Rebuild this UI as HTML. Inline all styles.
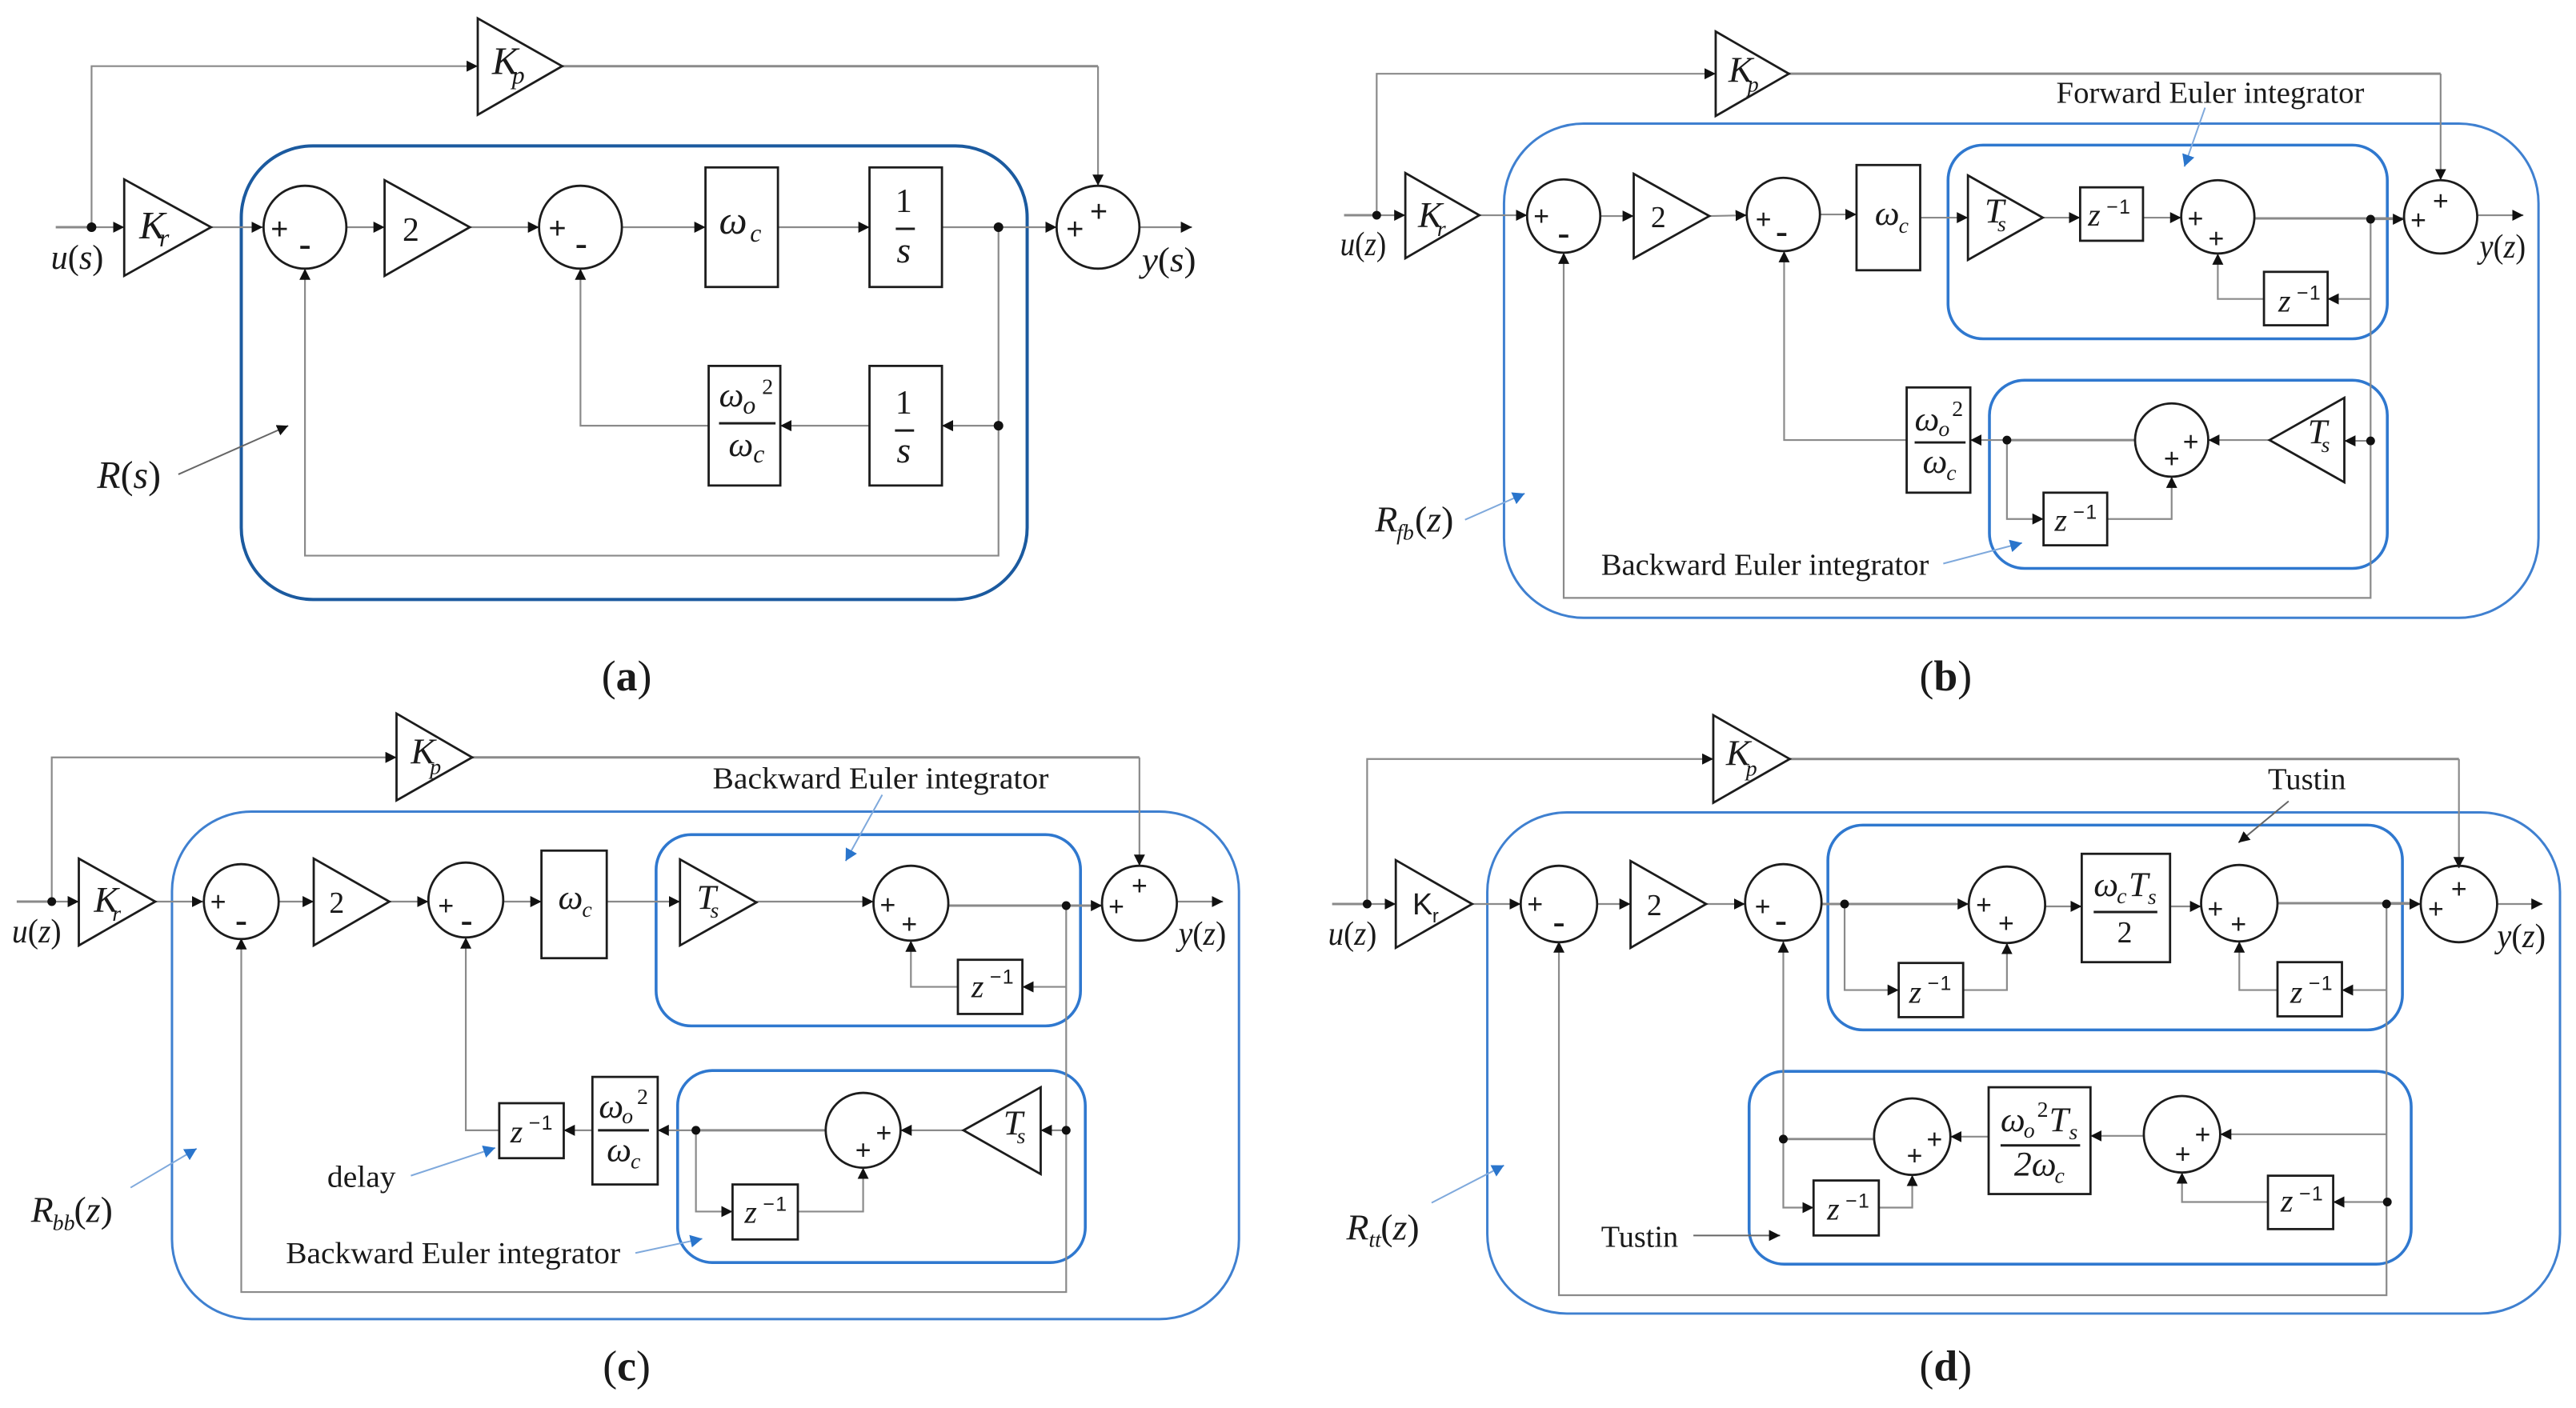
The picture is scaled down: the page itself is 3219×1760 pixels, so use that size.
<!DOCTYPE html>
<html>
<head>
<meta charset="utf-8">
<style>
html,body{margin:0;padding:0;background:#fff}
svg{display:block}
.c{fill:none;stroke:#8a8a8a;stroke-width:2.2;marker-end:url(#a)}
.t{fill:none;stroke:#8a8a8a;stroke-width:3}
.b{fill:none;stroke:#1c1c1c;stroke-width:2.8}
.f{stroke:#1c1c1c;stroke-width:3}
.d{fill:#111}
.ra{fill:none;stroke:#1b5a9f;stroke-width:4}
.rb{fill:none;stroke:#3f80d0;stroke-width:3}
.rc{fill:none;stroke:#2f78cf;stroke-width:3.6}
.ab{fill:none;stroke:#7fa9dc;stroke-width:2;marker-end:url(#ab)}
.ak{fill:none;stroke:#666;stroke-width:2;marker-end:url(#a)}
text{fill:#1a1a1a;font-family:"Liberation Serif",serif}
.u{font-style:normal}
.i{font-style:italic;font-size:42px}
.ib{font-style:italic;font-size:49px}
.w{font-style:italic;font-size:44px}
.W{font-style:italic;font-size:50px}
.s4{font-style:italic;font-size:46px}
.ss{font-style:italic;font-size:28px}
.sa{font-style:italic;font-size:32px}
.sm{font-size:28px}
.z{font-style:italic;font-size:40px;transform:translateY(-1px)}
.e{font-size:25px;letter-spacing:1.5px;font-family:"Liberation Sans",sans-serif;transform:translateX(2px)}
.p{font-size:34px;font-family:"Liberation Sans",sans-serif;text-anchor:middle;transform:translateY(1.5px)}
.q{font-size:48px;font-family:"Liberation Sans",sans-serif;text-anchor:middle;transform:translateY(3.3px)}
.A .p{font-size:38px;transform:translateY(3px)}
.g{font-size:38px;text-anchor:middle}
.A .g{font-size:42px}
.l{font-size:38px}
.cap{font-size:54px;text-anchor:middle}
.capb{font-weight:bold}
</style>
</head>
<body>
<svg xmlns="http://www.w3.org/2000/svg" width="3219" height="1760" viewBox="0 0 3219 1760">
<defs>
<marker id="a" markerUnits="userSpaceOnUse" markerWidth="15" markerHeight="15" refX="14" refY="7" orient="auto"><path d="M0 0L14 7L0 14Z" fill="#111"/></marker>
<marker id="ab" markerUnits="userSpaceOnUse" markerWidth="16" markerHeight="16" refX="15" refY="8" orient="auto"><path d="M0 0L15 8L0 16Z" fill="#2a75cc"/></marker>
</defs>
<rect width="3219" height="1760" fill="#fff"/>

<!-- PANEL A -->
<g class="A" transform="scale(.995,.9965)">
<rect class="ra" x="303" y="183" width="987" height="569" rx="90" ry="90"/>
<polyline class="c" points="115,285 115,83 600,83"/>
<polyline class="t" points="706,83 1379,83"/>
<polyline class="c" points="1379,83 1379,233"/>
<polyline class="t" points="70,285 115,285"/>
<polyline class="c" points="115,285 156,285"/>
<polyline class="c" points="265,285 330,285"/>
<polyline class="c" points="436,285 483,285"/>
<polyline class="c" points="590,285 677,285"/>
<polyline class="c" points="781,285 886,285"/>
<polyline class="c" points="977,285 1092,285"/>
<polyline class="c" points="1183,285 1327,285"/>
<polyline class="c" points="1431,285 1497,285"/>
<polyline class="c" points="1254,534 1183,534"/>
<polyline class="c" points="1092,534 980,534"/>
<polyline class="c" points="890,534 729,534 729,337"/>
<polyline class="c" points="1254,285 1254,697 383,697 383,337"/>
<polygon class="b" points="600,23 706,83 600,144"/>
<polygon class="b" points="156,225 265,285 156,346"/>
<polygon class="b" points="483,226 590,285 483,346"/>
<circle class="b" cx="383" cy="285" r="52"/>
<circle class="b" cx="729" cy="285" r="52"/>
<circle class="b" cx="1379" cy="285" r="52"/>
<rect class="b" x="886" y="210" width="91" height="150"/>
<rect class="b" x="1092" y="210" width="91" height="150"/>
<rect class="b" x="890" y="459" width="90" height="150"/>
<rect class="b" x="1092" y="459" width="91" height="150"/>
<circle class="d" cx="115" cy="285" r="6"/><circle class="d" cx="1254" cy="285" r="6"/><circle class="d" cx="1254" cy="534" r="6"/>
<text class="p" x="351" y="297">+</text><text class="q" x="383" y="320">-</text>
<text class="p" x="700" y="296">+</text><text class="q" x="730" y="319">-</text>
<text class="p" x="1350" y="297">+</text><text class="p" x="1380" y="275">+</text>
<text class="ib" x="618" y="93">K</text><text class="sa" x="643" y="105">p</text>
<text class="ib" x="175" y="299">K</text><text class="sa" x="200" y="309">r</text>
<text class="g" x="516" y="302">2</text>
<text class="W" x="903" y="293">ω</text><text class="sa" x="942" y="303">c</text>
<text class="g" x="1135" y="266">1</text><line class="f" x1="1125" x2="1149" y1="287" y2="287"/><text class="s4" x="1126" y="329">s</text>
<text class="g" x="1135" y="519">1</text><line class="f" x1="1124" x2="1148" y1="540" y2="540"/><text class="s4" x="1126" y="580">s</text>
<text class="w" x="903" y="510">ω</text><text class="sa" x="933" y="519">o</text><text class="sm" x="957" y="494">2</text>
<line class="f" x1="903" x2="974" y1="531" y2="531"/>
<text class="w" x="915" y="572">ω</text><text class="sa" x="946" y="580">c</text>
<text class="i" x="64" y="337" textLength="66" lengthAdjust="spacingAndGlyphs" style="font-size:44px">u<tspan class="u">(</tspan>s<tspan class="u">)</tspan></text>
<text class="i" x="1434" y="340" textLength="68" lengthAdjust="spacingAndGlyphs" style="font-size:44px">y<tspan class="u">(</tspan>s<tspan class="u">)</tspan></text>
<text class="ib" x="122" y="612" textLength="80" lengthAdjust="spacingAndGlyphs">R<tspan class="u">(</tspan>s<tspan class="u">)</tspan></text>
<line x1="224" y1="595" x2="362" y2="534" class="ak"/>
<text class="cap" x="787" y="866">(<tspan class="capb">a</tspan>)</text>
</g>

<!-- PANEL B -->
<g transform="translate(1600,0) scale(.9944,.9965) translate(-1600,0)">
<rect class="rb" x="1881" y="155" width="1300" height="620" rx="100" ry="100"/>
<rect class="rc" x="2439" y="182" width="552" height="243" rx="44" ry="44"/>
<rect class="rc" x="2491" y="477" width="500" height="236" rx="44" ry="44"/>
<polyline class="c" points="1721,270 1721,92.5 2147,92.5"/>
<polyline class="t" points="2239,92.5 3058,92.5"/>
<polyline class="c" points="3058,92.5 3058,226"/>
<polyline class="t" points="1680,270 1721,270"/>
<polyline class="c" points="1721,270 1757,270"/>
<polyline class="c" points="1850,270 1910,270"/>
<polyline class="c" points="2002,271 2044,271"/>
<polyline class="c" points="2139,271 2186,270"/>
<polyline class="c" points="2278,269 2324,269"/>
<polyline class="c" points="2404,273 2464,273"/>
<polyline class="c" points="2558,273 2605,273"/>
<polyline class="c" points="2684,273 2732,273"/>
<polyline class="t" points="2824,274 3012,274"/>
<polyline class="c" points="2970,275 3012,275"/>
<polyline class="c" points="3104,270 3162,270"/>
<polyline class="c" points="2970,375 2916,375"/>
<polyline class="c" points="2836,375 2778,375 2778,318"/>
<polyline class="c" points="2970,553 2937,553"/>
<polyline class="c" points="2843,552 2766,552"/>
<polyline class="t" points="2674,552 2513,552"/>
<polyline class="c" points="2513,552 2467,552"/>
<polyline class="c" points="2513,552 2513,651 2559,651"/>
<polyline class="c" points="2639,651 2720,651 2720,598"/>
<polyline class="c" points="2387,552 2233,552 2233,315"/>
<polyline class="c" points="2970,275 2970,750 1956,750 1956,317"/>
<polygon class="b" points="2147,39.5 2239,92.5 2147,145.5"/>
<polygon class="b" points="1757,217 1850,270 1757,324"/>
<polygon class="b" points="2044,218 2139,271 2044,324"/>
<polygon class="b" points="2464,220 2558,273 2464,326"/>
<polygon class="b" points="2937,499 2843,552 2937,605"/>
<circle class="b" cx="1956" cy="271" r="46"/>
<circle class="b" cx="2232" cy="269" r="46"/>
<circle class="b" cx="2778" cy="272" r="46"/>
<circle class="b" cx="3058" cy="272" r="46"/>
<circle class="b" cx="2720" cy="552" r="46"/>
<rect class="b" x="2324" y="207" width="80" height="132"/>
<rect class="b" x="2605" y="235" width="79" height="67"/>
<rect class="b" x="2836" y="341" width="80" height="67"/>
<rect class="b" x="2387" y="486" width="80" height="132"/>
<rect class="b" x="2559" y="618" width="80" height="66"/>
<circle class="d" cx="1721" cy="270" r="5.5"/><circle class="d" cx="2970" cy="275" r="5.5"/><circle class="d" cx="2970" cy="553" r="5.5"/><circle class="d" cx="2513" cy="552" r="5.5"/>
<text class="p" x="1928" y="281">+</text><text class="q" x="1956" y="306">-</text>
<text class="p" x="2207" y="285">+</text><text class="q" x="2230" y="304">-</text>
<text class="p" x="2750" y="284">+</text><text class="p" x="2776" y="309">+</text>
<text class="p" x="3058" y="262">+</text><text class="p" x="3030" y="286">+</text>
<text class="p" x="2744" y="564">+</text><text class="p" x="2720" y="585">+</text>
<text class="s4" x="2163" y="103">K</text><text class="ss" x="2187" y="115">p</text>
<text class="s4" x="1773" y="285">K</text><text class="ss" x="1797" y="296">r</text>
<text class="g" x="2075" y="285">2</text>
<text class="w" x="2347" y="282">ω</text><text class="ss" x="2377" y="292">c</text>
<text class="w" x="2485" y="279">T</text><text class="ss" x="2501" y="290">s</text>
<text class="z" x="2615" y="284">z</text><text class="e" x="2636" y="268">−1</text>
<text class="z" x="2854" y="392">z</text><text class="e" x="2875" y="376">−1</text>
<text class="z" x="2573" y="667">z</text><text class="e" x="2594" y="651">−1</text>
<text class="w" x="2891" y="556">T</text><text class="ss" x="2908" y="567">s</text>
<text class="w" x="2397" y="540">ω</text><text class="ss" x="2427" y="547">o</text><text class="sm" x="2444" y="522">2</text>
<line class="f" x1="2397" x2="2461" y1="555" y2="555"/>
<text class="w" x="2407" y="593">ω</text><text class="ss" x="2437" y="602">c</text>
<text class="i" x="1675" y="320" textLength="58" lengthAdjust="spacingAndGlyphs">u<tspan class="u">(</tspan>z<tspan class="u">)</tspan></text>
<text class="i" x="3107" y="323" textLength="58" lengthAdjust="spacingAndGlyphs">y<tspan class="u">(</tspan>z<tspan class="u">)</tspan></text>
<text class="s4" x="1719" y="667">R</text><text class="ss" x="1746" y="677">fb</text><text class="s4" x="1769" y="667"><tspan class="u">(</tspan>z<tspan class="u">)</tspan></text>
<text class="l" x="2575" y="129" textLength="387" lengthAdjust="spacingAndGlyphs">Forward Euler integrator</text>
<text class="l" x="2003" y="721" textLength="412" lengthAdjust="spacingAndGlyphs">Backward Euler integrator</text>
<line class="ab" x1="2762" y1="135" x2="2736" y2="209"/>
<line class="ab" x1="2433" y1="707" x2="2532" y2="681"/>
<line class="ab" x1="1832" y1="652" x2="1907" y2="619"/>
<text class="cap" x="2436" y="866">(<tspan class="capb">b</tspan>)</text>
</g>

<!-- PANEL C -->
<g transform="translate(0,880) scale(.995,.996) translate(0,-880)">
<rect class="rb" x="216" y="1015" width="1340" height="637" rx="100" ry="100"/>
<rect class="rc" x="824" y="1044" width="533" height="240" rx="44" ry="44"/>
<rect class="rc" x="851" y="1340" width="512" height="241" rx="44" ry="44"/>
<polyline class="c" points="65,1128 65,947 498,947"/>
<polyline class="t" points="593,947 1431,947"/>
<polyline class="c" points="1431,947 1431,1083"/>
<polyline class="t" points="21,1128 65,1128"/>
<polyline class="c" points="65,1128 99,1128"/>
<polyline class="c" points="195,1128 255,1128"/>
<polyline class="c" points="351,1128 394,1128"/>
<polyline class="c" points="489,1128 538,1128"/>
<polyline class="c" points="632,1128 680,1128"/>
<polyline class="c" points="762,1128 854,1128"/>
<polyline class="c" points="950,1128 1097,1128"/>
<polyline class="t" points="1191,1133 1384,1133"/>
<polyline class="c" points="1339,1133 1384,1133"/>
<polyline class="c" points="1478,1128 1536,1128"/>
<polyline class="c" points="1339,1235 1284,1235"/>
<polyline class="c" points="1203,1235 1144,1235 1144,1177"/>
<polyline class="c" points="1339,1415 1307,1415"/>
<polyline class="c" points="1210,1415 1131,1415"/>
<polyline class="t" points="1037,1415 874,1415"/>
<polyline class="c" points="874,1415 826,1415"/>
<polyline class="c" points="744,1415 708,1415"/>
<polyline class="c" points="874,1415 874,1517 920,1517"/>
<polyline class="c" points="1002,1517 1084,1517 1084,1462"/>
<polyline class="c" points="627,1415 585,1415 585,1173"/>
<polyline class="c" points="1339,1133 1339,1618 303,1618 303,1174"/>
<polygon class="b" points="498,892 593,947 498,1001"/>
<polygon class="b" points="99,1074 195,1128 99,1183"/>
<polygon class="b" points="394,1074 489,1128 394,1183"/>
<polygon class="b" points="854,1075 950,1129 854,1183"/>
<polygon class="b" points="1307,1361 1210,1415 1307,1470"/>
<circle class="b" cx="303" cy="1128" r="47"/>
<circle class="b" cx="585" cy="1126" r="47"/>
<circle class="b" cx="1144" cy="1130" r="47"/>
<circle class="b" cx="1431" cy="1130" r="47"/>
<circle class="b" cx="1084" cy="1415" r="47"/>
<rect class="b" x="680" y="1064" width="82" height="135"/>
<rect class="b" x="1203" y="1201" width="81" height="68"/>
<rect class="b" x="744" y="1348" width="82" height="135"/>
<rect class="b" x="627" y="1381" width="81" height="69"/>
<rect class="b" x="920" y="1483" width="82" height="69"/>
<circle class="d" cx="65" cy="1128" r="5.5"/><circle class="d" cx="1339" cy="1133" r="5.5"/><circle class="d" cx="1339" cy="1415" r="5.5"/><circle class="d" cx="874" cy="1415" r="5.5"/>
<text class="p" x="274" y="1138">+</text><text class="q" x="303" y="1165">-</text>
<text class="p" x="560" y="1143">+</text><text class="q" x="586" y="1165">-</text>
<text class="p" x="1115" y="1142">+</text><text class="p" x="1142" y="1166">+</text>
<text class="p" x="1431" y="1118">+</text><text class="p" x="1402" y="1144">+</text>
<text class="p" x="1110" y="1428">+</text><text class="p" x="1084" y="1450">+</text>
<text class="s4" x="516" y="955">K</text><text class="ss" x="540" y="968">p</text>
<text class="s4" x="118" y="1141">K</text><text class="ss" x="141" y="1152">r</text>
<text class="g" x="423" y="1142">2</text>
<text class="w" x="701" y="1137">ω</text><text class="ss" x="731" y="1147">c</text>
<text class="w" x="875" y="1137">T</text><text class="ss" x="892" y="1148">s</text>
<text class="z" x="1220" y="1249">z</text><text class="e" x="1241" y="1231">−1</text>
<text class="z" x="641" y="1431">z</text><text class="e" x="662" y="1414">−1</text>
<text class="z" x="935" y="1532">z</text><text class="e" x="956" y="1516">−1</text>
<text class="w" x="1260" y="1420">T</text><text class="ss" x="1277" y="1431">s</text>
<text class="w" x="752" y="1399">ω</text><text class="ss" x="781" y="1406">o</text><text class="sm" x="800" y="1382">2</text>
<line class="f" x1="751" x2="815" y1="1415" y2="1415"/>
<text class="w" x="762" y="1454">ω</text><text class="ss" x="792" y="1463">c</text>
<text class="i" x="15" y="1179" textLength="62" lengthAdjust="spacingAndGlyphs">u<tspan class="u">(</tspan>z<tspan class="u">)</tspan></text>
<text class="i" x="1480" y="1182" textLength="60" lengthAdjust="spacingAndGlyphs">y<tspan class="u">(</tspan>z<tspan class="u">)</tspan></text>
<text class="s4" x="39" y="1530">R</text><text class="ss" x="66" y="1540">bb</text><text class="s4" x="93" y="1530"><tspan class="u">(</tspan>z<tspan class="u">)</tspan></text>
<text class="l" x="895" y="986" textLength="422" lengthAdjust="spacingAndGlyphs">Backward Euler integrator</text>
<text class="l" x="359" y="1582" textLength="420" lengthAdjust="spacingAndGlyphs">Backward Euler integrator</text>
<text class="l" x="411" y="1486" textLength="86" lengthAdjust="spacingAndGlyphs">delay</text>
<line class="ab" x1="1108" y1="994" x2="1062" y2="1077"/>
<line class="ab" x1="798" y1="1569" x2="882" y2="1551"/>
<line class="ab" x1="516" y1="1472" x2="622" y2="1437"/>
<line class="ab" x1="164" y1="1487" x2="247" y2="1438"/>
<text class="cap" x="787" y="1729">(<tspan class="capb">c</tspan>)</text>
</g>

<!-- PANEL D -->
<g transform="translate(1600,880) scale(.9944,.996) translate(-1600,-880)">
<rect class="rb" x="1860" y="1016" width="1348" height="629" rx="100" ry="100"/>
<rect class="rc" x="2288" y="1032" width="722" height="257" rx="44" ry="44"/>
<rect class="rc" x="2189" y="1341" width="832" height="242" rx="44" ry="44"/>
<polyline class="c" points="1709,1131 1709,949 2144,949"/>
<polyline class="t" points="2240,949 3081,949"/>
<polyline class="c" points="3081,949 3081,1086"/>
<polyline class="t" points="1665,1131 1709,1131"/>
<polyline class="c" points="1709,1131 1745,1131"/>
<polyline class="c" points="1841,1131 1902,1131"/>
<polyline class="c" points="1998,1131 2040,1131"/>
<polyline class="c" points="2135,1131 2184,1131"/>
<polyline class="t" points="2280,1131 2450,1131"/>
<polyline class="c" points="2309,1131 2465,1131"/>
<polyline class="c" points="2561,1134 2607,1134"/>
<polyline class="c" points="2718,1134 2757,1134"/>
<polyline class="t" points="2853,1130 3020,1130"/>
<polyline class="c" points="2990,1131 3033,1131"/>
<polyline class="c" points="3129,1131 3186,1131"/>
<polyline class="c" points="2309,1131 2309,1239 2377,1239"/>
<polyline class="c" points="2458,1239 2513,1239 2513,1180"/>
<polyline class="c" points="2990,1239 2934,1239"/>
<polyline class="c" points="2853,1239 2805,1239 2805,1178"/>
<polyline class="c" points="2990,1420 2781,1420"/>
<polyline class="c" points="2685,1422 2618,1422"/>
<polyline class="c" points="2490,1423 2442,1423"/>
<polyline class="t" points="2346,1426 2232,1426"/>
<polyline class="c" points="2232,1426 2232,1512 2270,1512"/>
<polyline class="c" points="2352,1512 2394,1512 2394,1471"/>
<polyline class="c" points="2991,1505 2923,1505"/>
<polyline class="c" points="2841,1505 2733,1505 2733,1468"/>
<polyline class="c" points="2232,1426 2232,1178"/>
<polyline class="c" points="2990,1131 2990,1622 1950,1622 1950,1178"/>
<polygon class="b" points="2144,894 2240,949 2144,1004"/>
<polygon class="b" points="1745,1076 1841,1131 1745,1186"/>
<polygon class="b" points="2040,1077 2135,1131 2040,1186"/>
<circle class="b" cx="1950" cy="1131" r="48"/>
<circle class="b" cx="2232" cy="1129" r="48"/>
<circle class="b" cx="2513" cy="1132" r="48"/>
<circle class="b" cx="2805" cy="1130" r="48"/>
<circle class="b" cx="3081" cy="1131" r="48"/>
<circle class="b" cx="2394" cy="1423" r="48"/>
<circle class="b" cx="2733" cy="1420" r="48"/>
<rect class="b" x="2607" y="1068" width="111" height="136"/>
<rect class="b" x="2490" y="1361" width="128" height="134"/>
<rect class="b" x="2377" y="1205" width="81" height="68"/>
<rect class="b" x="2853" y="1204" width="81" height="68"/>
<rect class="b" x="2270" y="1478" width="82" height="69"/>
<rect class="b" x="2841" y="1472" width="82" height="67"/>
<circle class="d" cx="1709" cy="1131" r="5.5"/><circle class="d" cx="2309" cy="1131" r="5.5"/><circle class="d" cx="2990" cy="1131" r="5.5"/><circle class="d" cx="2232" cy="1426" r="5.5"/><circle class="d" cx="2991" cy="1505" r="5.5"/>
<text class="p" x="1920" y="1141">+</text><text class="q" x="1950" y="1167">-</text>
<text class="p" x="2206" y="1144">+</text><text class="q" x="2229" y="1165">-</text>
<text class="p" x="2484" y="1142">+</text><text class="p" x="2512" y="1165">+</text>
<text class="p" x="2775" y="1147">+</text><text class="p" x="2804" y="1166">+</text>
<text class="p" x="3081" y="1122">+</text><text class="p" x="3052" y="1147">+</text>
<text class="p" x="2422" y="1436">+</text><text class="p" x="2397" y="1457">+</text>
<text class="p" x="2759" y="1430">+</text><text class="p" x="2734" y="1455">+</text>
<text class="s4" x="2160" y="957">K</text><text class="ss" x="2185" y="970">p</text>
<text x="1766" y="1144" style="font-size:38px;font-family:'Liberation Sans',sans-serif">K</text><text x="1791" y="1154" style="font-size:24px;font-family:'Liberation Sans',sans-serif">r</text>
<text class="g" x="2070" y="1145">2</text>
<text class="w" x="2622" y="1121">ω</text><text class="ss" x="2651" y="1130">c</text><text class="w" x="2666" y="1121">T</text><text class="ss" x="2690" y="1131">s</text>
<line class="f" x1="2622" x2="2702" y1="1141" y2="1141"/>
<text class="g" x="2661" y="1179">2</text>
<text class="w" x="2505" y="1416">ω</text><text class="ss" x="2534" y="1424">o</text><text class="sm" x="2551" y="1398">2</text><text class="w" x="2566" y="1416">T</text><text class="ss" x="2591" y="1426">s</text>
<line class="f" x1="2505" x2="2605" y1="1434" y2="1434"/>
<text class="w" x="2522" y="1472">2ω</text><text class="ss" x="2573" y="1481">c</text>
<text class="z" x="2390" y="1256">z</text><text class="e" x="2411" y="1239">−1</text>
<text class="z" x="2869" y="1256">z</text><text class="e" x="2890" y="1239">−1</text>
<text class="z" x="2287" y="1528">z</text><text class="e" x="2308" y="1512">−1</text>
<text class="z" x="2857" y="1518">z</text><text class="e" x="2878" y="1503">−1</text>
<text class="i" x="1660" y="1182" textLength="61" lengthAdjust="spacingAndGlyphs">u<tspan class="u">(</tspan>z<tspan class="u">)</tspan></text>
<text class="i" x="3129" y="1185" textLength="61" lengthAdjust="spacingAndGlyphs">y<tspan class="u">(</tspan>z<tspan class="u">)</tspan></text>
<text class="s4" x="1683" y="1552">R</text><text class="ss" x="1711" y="1561">tt</text><text class="s4" x="1726" y="1552"><tspan class="u">(</tspan>z<tspan class="u">)</tspan></text>
<text class="l" x="2841" y="987" textLength="98" lengthAdjust="spacingAndGlyphs">Tustin</text>
<text class="l" x="2003" y="1561" textLength="97" lengthAdjust="spacingAndGlyphs">Tustin</text>
<line class="ak" x1="2867" y1="1002" x2="2804" y2="1054"/>
<line class="ak" x1="2119" y1="1547" x2="2228" y2="1547"/>
<line class="ab" x1="1790" y1="1506" x2="1881" y2="1459"/>
<text class="cap" x="2436" y="1729">(<tspan class="capb">d</tspan>)</text>
</g>
</svg>
</body>
</html>
